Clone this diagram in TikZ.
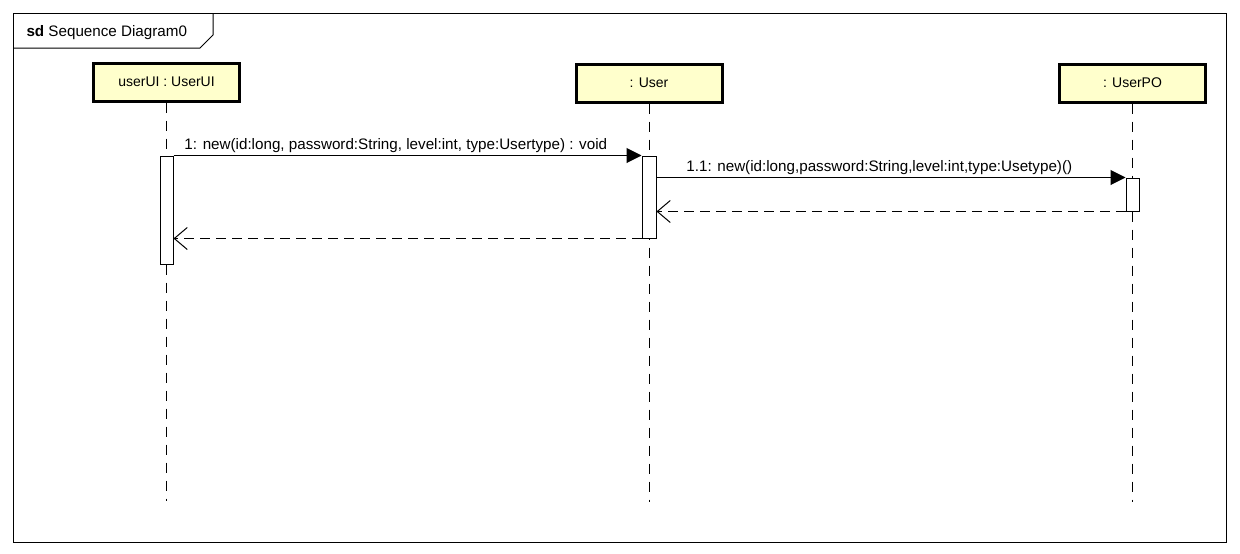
\documentclass[tikz,border=0pt]{standalone}
\usepackage{fontspec}
\setmainfont{Liberation Sans}
\usetikzlibrary{arrows.meta,positioning}
\definecolor{headfill}{RGB}{255,255,204}

\begin{document}
\begin{tikzpicture}[x=1pt,y=-1pt,font=\fontsize{15.2}{17}\selectfont,
		head/.style={draw,line width=3pt,fill=headfill,minimum width=146pt,minimum height=38pt,inner sep=0pt,font=\fontsize{14}{16}\selectfont},
		actbar/.style={draw,line width=1pt,fill=white,minimum width=13pt,inner sep=0pt},
		lifeline/.style={line width=1pt,dash pattern=on 10pt off 8pt},
		call/.style={line width=1pt,-{Triangle[length=15pt,width=15pt]}},
		reply/.style={line width=1pt,dash pattern=on 10pt off 6pt,-{Straight Barb[length=13pt,width=22pt]}}]
	\useasboundingbox (0,0) rectangle (1240,554);
	% frame
	\draw[line width=1pt] (13,13) rectangle (1226,542);
	\draw[line width=1pt] (13,48) -- (200,48) -- (213,35) -- (213,13);
	\node[anchor=west] (title) at (23,33) {\textbf{sd} Sequence Diagram0};
	% lifelines
	\node[head] (h1) at (166.5,82) {userUI : UserUI};
	\node[head] (h2) at (649,83) {: User};
	\node[head] (h3) at (1132.5,83) {: UserPO};
	\draw[lifeline] (h1.south) -- ++(0,398);
	\draw[lifeline] (h2.south) -- ++(0,398);
	\draw[lifeline] (h3.south) -- ++(0,398);
	% activations
	\node[actbar,minimum height=108pt] (a1) at (166.5,210) {};
	\node[actbar,minimum height=82pt,minimum width=14pt] (a2) at (649,197) {};
	\node[actbar,minimum height=33pt] (a3) at (1132.5,194.5) {};
	% messages
	\draw[call] (a1.north east) -- node[above,pos=0.475,inner sep=2pt] {1: new(id:long, password:String, level:int, type:Usertype) : void} (a2.north west);
	\draw[call] (a2.east |- a3.north) -- node[above,pos=0.475,inner sep=2pt] {1.1: new(id:long,password:String,level:int,type:Usetype)()} (a3.north west);
	\draw[reply] (a3.south west) -- (a2.east |- a3.south);
	\draw[reply] (a2.south west) -- (a1.east |- a2.south);
\end{tikzpicture}
\end{document}
